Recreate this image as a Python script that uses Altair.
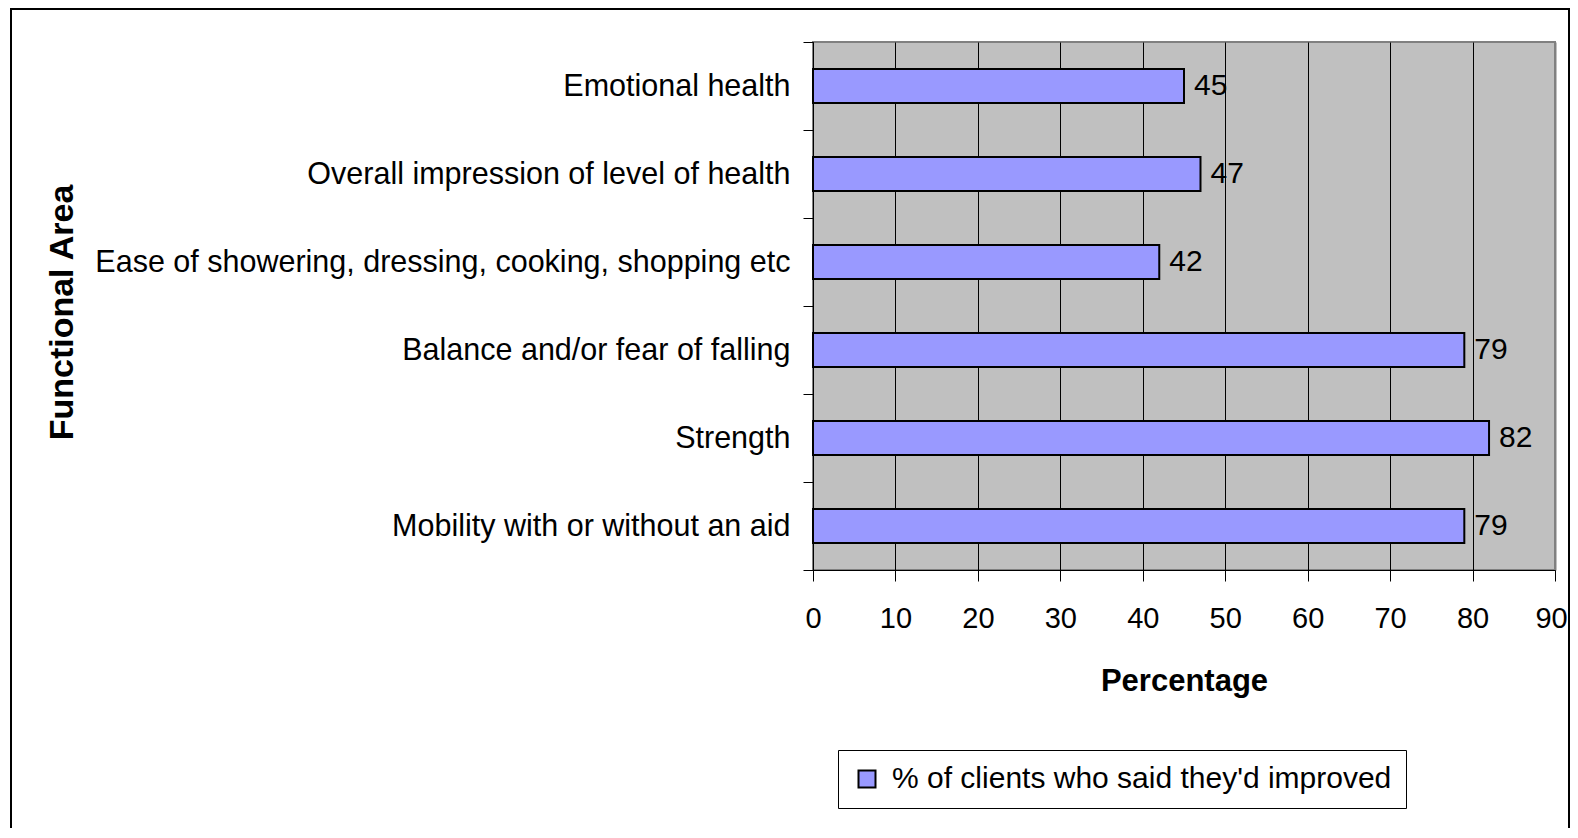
import altair as alt
import pandas as pd

categories = [
    "Emotional health",
    "Overall impression of level of health",
    "Ease of showering, dressing, cooking, shopping etc",
    "Balance and/or fear of falling",
    "Strength",
    "Mobility with or without an aid",
]
values = [45, 47, 42, 79, 82, 79]
series_name = "% of clients who said they'd improved"
x_ticks = [0, 10, 20, 30, 40, 50, 60, 70, 80, 90]

df = pd.DataFrame({"area": categories, "pct": values, "series": [series_name] * len(categories)})

FONT = "Liberation Sans, Arial, sans-serif"

x_enc = alt.X(
    "pct:Q",
    scale=alt.Scale(domain=[0, 90], nice=False, zero=True),
    axis=alt.Axis(
        values=x_ticks, title="Percentage", grid=True,
        gridColor={"condition": {"test": "datum.value === 90", "value": "#808080"}, "value": "black"},
        gridWidth={"condition": {"test": "datum.value === 90", "value": 2}, "value": 1},
        gridOpacity=1,
        tickSize=11, tickColor="black", tickWidth=1, domainColor="black", domainWidth=1,
        labelFont=FONT, labelFontSize=29, labelColor="black", labelPadding=23,
        labelOffset={"condition": {"test": "datum.value === 90", "value": -4}, "value": 0},
        labelFlush=False, labelOverlap=False,
        titleFont=FONT, titleFontSize=31, titleFontWeight="bold", titleColor="black",
        titleX=371, titleY=111, titleAlign="center", titleBaseline="middle",
    ),
)
y_enc = alt.Y(
    "area:N",
    sort=categories,
    scale=alt.Scale(paddingInner=0, paddingOuter=0),
    axis=alt.Axis(
        title="Functional Area", tickBand="extent", grid=False,
        tickSize=10, tickColor="black", tickWidth=1, domainColor="black", domainWidth=1,
        labelFont=FONT, labelFontSize=30.5, labelColor="black", labelLimit=1000, labelPadding=13,
        titleFont=FONT, titleFontSize=34, titleFontWeight="bold", titleColor="black",
        titleX=-751, titleY=270, titleAngle=270, titleAlign="center", titleBaseline="middle",
    ),
)

frame = alt.Chart(alt.Data(values=[{}])).mark_rect(
    filled=False, stroke="black", strokeWidth=2
).encode(
    x=alt.value(-802), x2=alt.value(756), y=alt.value(-33), y2=alt.value(900)
)

bars = alt.Chart(df).mark_bar(size=34, stroke="black", strokeWidth=2).encode(
    x=x_enc,
    y=y_enc,
    color=alt.Color(
        "series:N",
        scale=alt.Scale(range=["#9999FF"]),
        legend=alt.Legend(
            title=None, orient="none", legendX=25, legendY=708,
            symbolType="square", symbolSize=289, symbolStrokeColor="black", symbolStrokeWidth=2,
            labelFont=FONT, labelFontSize=30, labelColor="black", labelLimit=1000, labelOffset=10,
            strokeColor="black", fillColor="white", padding=14,
        ),
    ),
)

labels = alt.Chart(df).mark_text(
    align="left", baseline="middle", dx=10, font=FONT, fontSize=30, color="black"
).encode(
    x=alt.X("pct:Q"),
    y=alt.Y("area:N", sort=categories),
    text=alt.Text("pct:Q"),
)

chart = alt.layer(frame, bars, labels).properties(
    width=742,
    height=528,
    padding={"left": 805, "top": 34, "right": 15, "bottom": 258},
    autosize=alt.AutoSizeParams(type="none"),
    view=alt.ViewBackground(fill="#C0C0C0", stroke="#808080", strokeWidth=2),
).configure_view(
    fill="#C0C0C0", stroke="#808080", strokeWidth=2
).configure(background="white")

chart.save("out.html", embed_options={"renderer": "svg", "actions": False})
